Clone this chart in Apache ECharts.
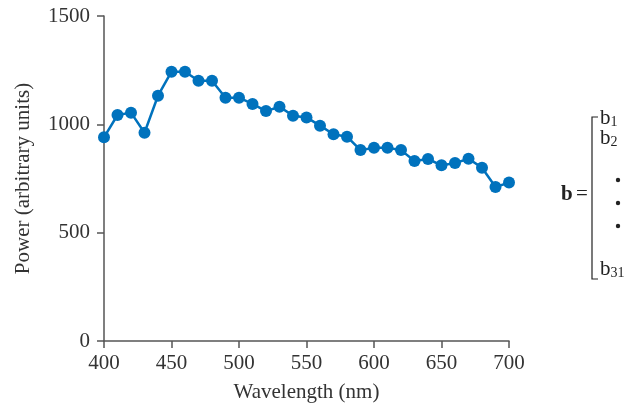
<!DOCTYPE html>
<html>
<head>
<meta charset="utf-8">
<script src="https://cdn.jsdelivr.net/npm/echarts@6/dist/echarts.min.js"></script>
<style>html,body{margin:0;padding:0;background:#fff}#c{width:633px;height:409px}</style>
</head>
<body>
<div id="c"></div>
<script>
const wavelengths = [400,410,420,430,440,450,460,470,480,490,500,510,520,530,540,550,560,570,580,590,600,610,620,630,640,650,660,670,680,690,700];
const power = [940,1043,1054,961,1132,1243,1243,1201,1201,1123,1123,1094,1061,1081,1040,1032,994,954,943,881,892,892,881,831,840,811,821,841,800,711,731];
const xTicks = [400,450,500,550,600,650,700];
const yTicks = [0,500,1000,1500];

const FONT = 'Liberation Serif';
const TXT = '#333';
const chart = echarts.init(document.getElementById('c'));
const sub = (s) => ({rich: {b: {font: '21px ' + FONT, fill: '#222'}, s: {font: '14px ' + FONT, fill: '#222', verticalAlign: 'bottom', padding: [8,0,0,0]}}, text: s});
chart.setOption({
  animation: false,
  grid: {left: 104, right: 124, top: 16, bottom: 68},
  xAxis: {
    type: 'value', min: xTicks[0], max: xTicks[xTicks.length-1], interval: 50,
    name: 'Wavelength (nm)', nameLocation: 'middle', nameGap: 41,
    nameTextStyle: {fontFamily: FONT, fontSize: 21, color: TXT},
    axisLine: {show: true, lineStyle: {color: '#555', width: 1.5}},
    axisTick: {show: true, inside: false, length: 7, lineStyle: {color: '#555', width: 1.5}},
    axisLabel: {fontFamily: FONT, fontSize: 21, color: TXT, margin: 12, formatter: v => String(v)},
    splitLine: {show: false}
  },
  yAxis: {
    type: 'value', min: yTicks[0], max: yTicks[yTicks.length-1], interval: 500,
    name: 'Power (arbitrary units)', nameLocation: 'middle', nameGap: 70, nameRotate: 90,
    nameTextStyle: {fontFamily: FONT, fontSize: 21, color: TXT},
    axisLine: {show: true, lineStyle: {color: '#555', width: 1.5}},
    axisTick: {show: true, inside: false, length: 7, lineStyle: {color: '#555', width: 1.5}},
    axisLabel: {fontFamily: FONT, fontSize: 21, color: TXT, margin: 14, formatter: v => String(v)},
    splitLine: {show: false}
  },
  series: [{
    type: 'line',
    data: wavelengths.map((w, i) => [w, power[i]]),
    symbol: 'circle', symbolSize: 12,
    lineStyle: {color: '#0072BD', width: 2.5},
    itemStyle: {color: '#0072BD'}
  }],
  graphic: [
    {type: 'text', left: 561, top: 184, style: {text: 'b', font: 'bold 21px ' + FONT, fill: '#222'}},
    {type: 'text', left: 576, top: 184, style: {text: '=', font: '21px ' + FONT, fill: '#222'}},
    {type: 'polyline', shape: {points: [[598,117],[592,117],[592,279],[598,279]]}, style: {stroke: '#222', lineWidth: 1.2, fill: null}},
    {type: 'text', left: 600, top: 108, style: sub('{b|b}{s|1}')},
    {type: 'text', left: 600, top: 128, style: sub('{b|b}{s|2}')},
    {type: 'circle', shape: {cx: 618, cy: 180, r: 2.2}, style: {fill: '#222'}},
    {type: 'circle', shape: {cx: 618, cy: 203, r: 2.2}, style: {fill: '#222'}},
    {type: 'circle', shape: {cx: 618, cy: 226, r: 2.2}, style: {fill: '#222'}},
    {type: 'text', left: 600, top: 259, style: sub('{b|b}{s|31}')}
  ]
});
</script>
</body>
</html>
